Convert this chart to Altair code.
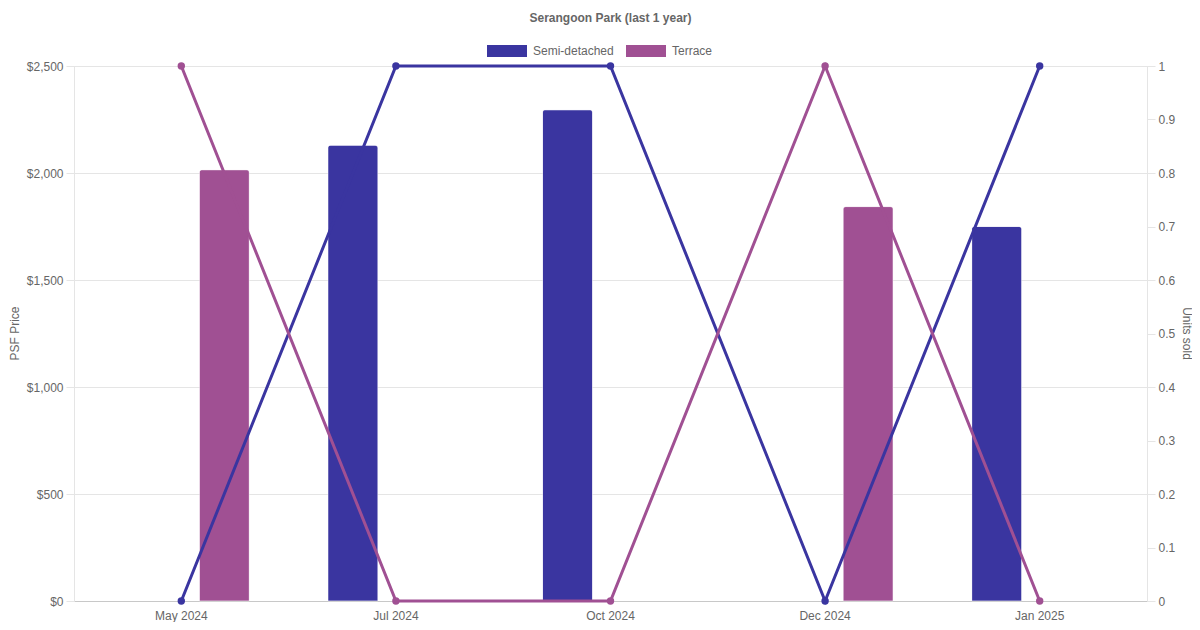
import altair as alt
import pandas as pd

months = ["May 2024", "Jul 2024", "Oct 2024", "Dec 2024", "Jan 2025"]
types = ["Semi-detached", "Terrace"]
semi_psf = [None, 2130, 2295, None, 1750]
terrace_psf = [2015, None, None, 1843, None]
semi_units = [0, 1, 1, 0, 1]
terrace_units = [1, 0, 0, 1, 0]
colors = ["#3A35A0", "#A05093"]

rows = []
for i, m in enumerate(months):
    rows.append({"month": m, "type": types[0], "psf": semi_psf[i], "units": semi_units[i]})
    rows.append({"month": m, "type": types[1], "psf": terrace_psf[i], "units": terrace_units[i]})
df = pd.DataFrame(rows)
bars_df = df.dropna(subset=["psf"])

FONT = "Liberation Sans"
GRID = "#e5e5e5"
TXT = "#666666"

x_enc = alt.X(
    "month:N",
    sort=months,
    scale=alt.Scale(domain=months, paddingInner=0, paddingOuter=0),
    axis=alt.Axis(title=None, ticks=False, labelPadding=9, labelAngle=0,
                  domainColor="#c8c8c8", grid=False, labelFontSize=12,
                  labelColor=TXT, labelFont=FONT),
)
color_scale = alt.Scale(domain=types, range=colors)

bars = alt.Chart(bars_df).mark_bar(
    cornerRadiusTopLeft=3, cornerRadiusTopRight=3,
    stroke="white", strokeOpacity=0.35, strokeWidth=1,
).encode(
    x=x_enc,
    xOffset=alt.XOffset("type:N", scale=alt.Scale(domain=types, paddingInner=0.4186, paddingOuter=0.4569)),
    y=alt.Y("psf:Q",
            scale=alt.Scale(domain=[0, 2500], nice=False),
            axis=alt.Axis(orient="left", title="PSF Price", format="$,.0f",
                          values=[0, 500, 1000, 1500, 2000, 2500],
                          grid=True, gridColor=GRID, tickColor=GRID, tickSize=8,
                          domainColor=GRID, labelPadding=3, labelFontSize=12,
                          labelColor=TXT, labelFont=FONT,
                          titleFont=FONT, titleFontSize=12, titleFontWeight="normal",
                          titleColor=TXT, titleAngle=-90, titleX=-60, titleY=267,
                          titleAlign="center", titleBaseline="middle")),
    color=alt.Color("type:N", scale=color_scale,
                    legend=alt.Legend(title=None, orient="none", legendX=413, legendY=-35,
                                      direction="horizontal",
                                      symbolType="M-1,-0.3H1V0.3H-1Z", symbolSize=1600,
                                      symbolStrokeWidth=0, labelOffset=6, columnPadding=12,
                                      labelFontSize=12, labelColor=TXT, labelFont=FONT,
                                      padding=0)),
)

lines = alt.Chart(df).mark_line(
    strokeWidth=3,
    point=alt.OverlayMarkDef(size=55, filled=True),
).encode(
    x=x_enc,
    y=alt.Y("units:Q",
            scale=alt.Scale(domain=[0, 1], nice=False),
            axis=alt.Axis(orient="right", title="Units sold", format=".1~f",
                          values=[0, 0.1, 0.2, 0.3, 0.4, 0.5, 0.6, 0.7, 0.8, 0.9, 1],
                          grid=False, tickColor=GRID, tickSize=8, domainColor=GRID,
                          labelPadding=3, labelFontSize=12, labelColor=TXT, labelFont=FONT,
                          titleFont=FONT, titleFontSize=12, titleFontWeight="normal",
                          titleColor=TXT, titleAngle=90, titleX=39, titleY=267,
                          titleAlign="center", titleBaseline="middle")),
    color=alt.Color("type:N", scale=color_scale, legend=None),
)

chart = alt.layer(bars, lines).resolve_scale(y="independent").resolve_legend(color="independent").properties(
    width=1073,
    height=535,
    title=alt.Title("Serangoon Park (last 1 year)", fontSize=12, fontWeight="bold",
                    color=TXT, font=FONT, anchor="middle", offset=6),
    autosize=alt.AutoSizeParams(type="none"),
    padding={"left": 66, "top": 58, "right": 45, "bottom": 21},
).configure_view(stroke=None).configure(background="white")

chart.save("out.html", embed_options={"renderer": "svg", "actions": False})
